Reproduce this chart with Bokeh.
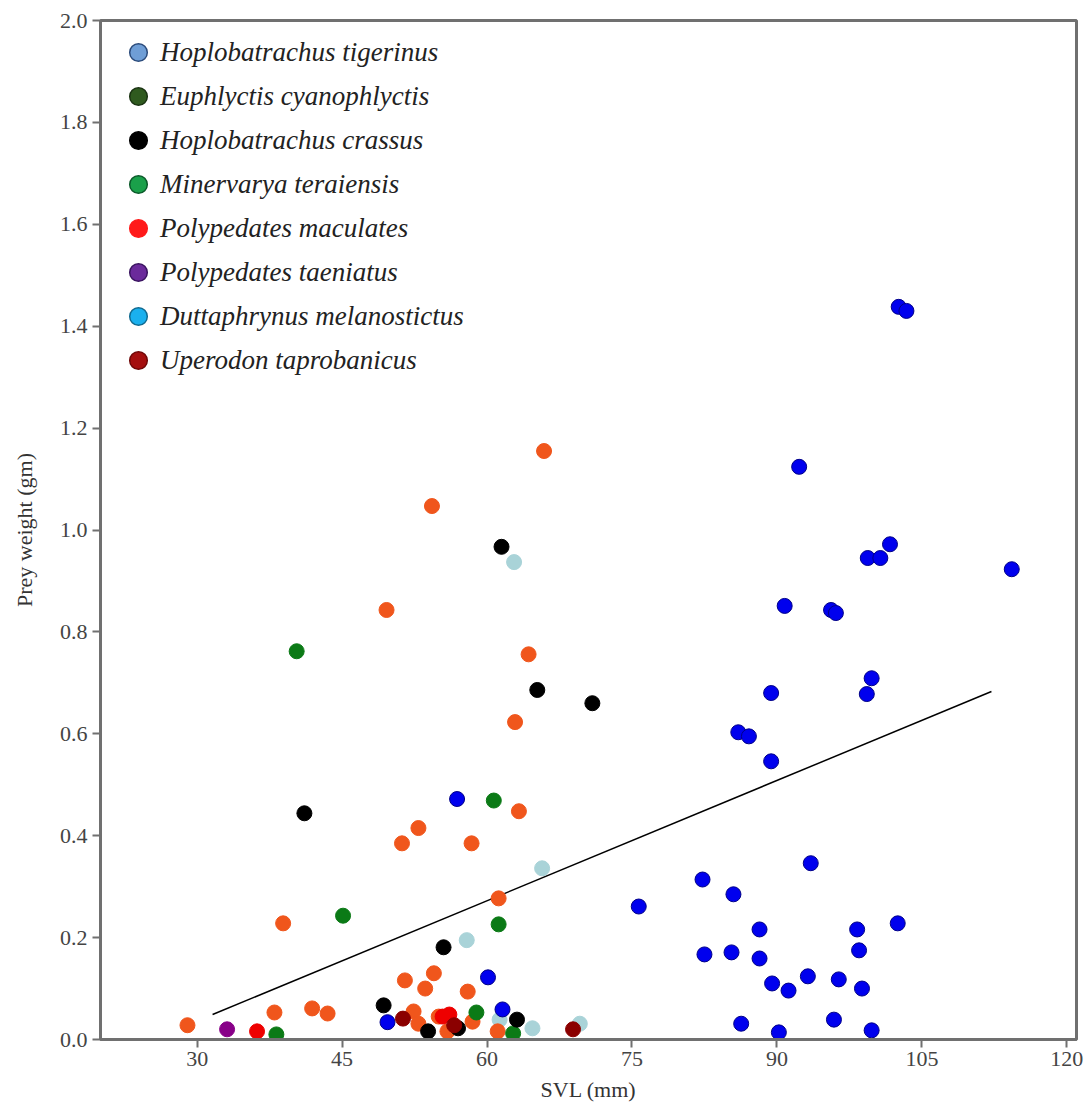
from bokeh.plotting import figure
from bokeh.models import Range1d, FixedTicker, PrintfTickFormatter, Legend, LegendItem, ColumnDataSource
from bokeh.embed import file_html
from bokeh.resources import INLINE

# ---- data (SVL mm, prey weight gm) ----
tigerinus_svl = [102.6, 103.4, 92.3, 101.7, 99.4, 100.7, 114.3, 90.8, 95.6, 96.1, 99.8, 99.3, 89.4,
                 86.0, 87.1, 89.4, 93.5, 82.3, 85.5, 75.7, 88.2, 98.3, 102.5, 82.5, 85.3, 88.2, 98.5,
                 89.5, 91.2, 93.2, 96.4, 98.8, 86.3, 90.2, 95.9, 99.8, 56.9, 60.1, 61.6, 49.7]
tigerinus_wt = [1.438, 1.430, 1.124, 0.972, 0.945, 0.945, 0.923, 0.851, 0.843, 0.837, 0.709, 0.678, 0.680,
                0.603, 0.595, 0.546, 0.346, 0.314, 0.285, 0.261, 0.216, 0.216, 0.228, 0.167, 0.171, 0.159, 0.175,
                0.110, 0.096, 0.124, 0.118, 0.100, 0.031, 0.014, 0.039, 0.018, 0.472, 0.122, 0.059, 0.034]

euphlyctis_svl = [40.3, 60.7, 45.1, 61.2, 38.2, 58.9, 62.7]
euphlyctis_wt = [0.762, 0.469, 0.243, 0.226, 0.010, 0.053, 0.012]

crassus_svl = [61.5, 65.2, 70.9, 41.1, 55.5, 49.3, 53.9, 57.0, 63.1]
crassus_wt = [0.967, 0.686, 0.660, 0.444, 0.181, 0.067, 0.016, 0.022, 0.039]

minervarya_svl = [65.9, 54.3, 49.6, 64.3, 62.9, 63.3, 52.9, 51.2, 58.4, 61.2, 38.9, 29.0, 38.0,
                  41.9, 43.5, 54.5, 51.5, 53.6, 58.0, 52.4, 52.9, 55.0, 55.9, 58.5, 61.1]
minervarya_wt = [1.155, 1.047, 0.843, 0.756, 0.623, 0.448, 0.415, 0.385, 0.385, 0.277, 0.228, 0.028, 0.053,
                 0.061, 0.051, 0.130, 0.116, 0.100, 0.094, 0.055, 0.031, 0.045, 0.016, 0.035, 0.016]

maculates_svl = [36.2, 55.4, 56.1]
maculates_wt = [0.016, 0.045, 0.049]

taeniatus_svl = [33.1]
taeniatus_wt = [0.020]

duttaphrynus_svl = [62.8, 65.7, 57.9, 64.7, 69.6, 61.3]
duttaphrynus_wt = [0.937, 0.336, 0.195, 0.022, 0.031, 0.039]

uperodon_svl = [68.9, 51.3, 56.6]
uperodon_wt = [0.020, 0.041, 0.028]

# regression line end points
fit_svl = [31.6, 112.2]
fit_wt = [0.049, 0.683]

species = ["Hoplobatrachus tigerinus", "Euphlyctis cyanophlyctis", "Hoplobatrachus crassus",
           "Minervarya teraiensis", "Polypedates maculates", "Polypedates taeniatus",
           "Duttaphrynus melanostictus", "Uperodon taprobanicus"]
legend_colors = ["#6f9ed6", "#2f5a1f", "#000000", "#1aa04a", "#ff1a1a", "#6b2a9b", "#1ab0ee", "#a50f0f"]
legend_lines = ["#2b4b7b", "#1a3312", "#000000", "#0b5a2a", "#ff1a1a", "#3a1460", "#106a90", "#700808"]

x_ticks = [30, 45, 60, 75, 90, 105, 120]
y_ticks = [0.0, 0.2, 0.4, 0.6, 0.8, 1.0, 1.2, 1.4, 1.6, 1.8, 2.0]

p = figure(width=1091, height=1113, output_backend="svg", toolbar_location=None,
           x_range=Range1d(20, 121), y_range=Range1d(0, 2.0),
           min_border_left=100, min_border_right=15, min_border_top=20, min_border_bottom=74)
p.grid.visible = False
p.background_fill_color = "white"
p.border_fill_color = "white"
p.outline_line_color = "#707070"
p.outline_line_width = 3

FONT = "Liberation Serif"
for ax in (p.xaxis[0], p.yaxis[0]):
    ax.axis_line_color = "#707070"
    ax.axis_line_width = 3
    ax.major_tick_line_color = "#707070"
    ax.major_tick_line_width = 2
    ax.major_tick_out = 8
    ax.major_tick_in = 0
    ax.minor_tick_line_color = None
    ax.major_label_text_font = FONT
    ax.major_label_text_font_size = "22px"
    ax.major_label_text_color = "#444444"
    ax.axis_label_text_font = FONT
    ax.axis_label_text_font_style = "normal"
    ax.axis_label_text_color = "#333333"
    ax.axis_label_text_font_size = "22px"

p.xaxis.ticker = FixedTicker(ticks=x_ticks)
p.yaxis.ticker = FixedTicker(ticks=y_ticks)
p.yaxis.formatter = PrintfTickFormatter(format="%.1f")
p.xaxis.axis_label = "SVL (mm)"
p.yaxis.axis_label = "Prey weight (gm)"
p.xaxis.major_label_standoff = 4
p.yaxis.major_label_standoff = 5
p.xaxis.axis_label_standoff = 8
p.yaxis.axis_label_standoff = 20

p.line(fit_svl, fit_wt, line_color="black", line_width=1.5)

S = 15
p.scatter(duttaphrynus_svl, duttaphrynus_wt, size=S, fill_color="#a9d3d8", line_color="#a9d3d8")
p.scatter(tigerinus_svl, tigerinus_wt, size=S, fill_color="#0000ee", line_color="#000088", line_width=1)
p.scatter(minervarya_svl, minervarya_wt, size=S, fill_color="#f0561c", line_color="#f0561c")
p.scatter(euphlyctis_svl, euphlyctis_wt, size=S, fill_color="#0b7a16", line_color="#0b7a16")
p.scatter(maculates_svl, maculates_wt, size=S, fill_color="#ee0000", line_color="#ee0000")
p.scatter(taeniatus_svl, taeniatus_wt, size=S, fill_color="#880088", line_color="#880088")
p.scatter(crassus_svl, crassus_wt, size=S, fill_color="#000000", line_color="#000000")
p.scatter(uperodon_svl, uperodon_wt, size=S, fill_color="#8b0000", line_color="#8b0000")

# legend swatches (renderers with a single NaN point carrying the legend colours)
items = []
nan = float("nan")
for name, fc, lc in zip(species, legend_colors, legend_lines):
    r = p.scatter(x="x", y="y", source=ColumnDataSource(dict(x=[nan], y=[nan])), size=S,
                  fill_color=fc, line_color=lc, line_width=1.5)
    items.append(LegendItem(label=name, renderers=[r], index=0))

legend = Legend(items=items, location=(16, 657), orientation="vertical",
                glyph_width=44, glyph_height=44, spacing=0, label_standoff=0,
                padding=0, margin=0,
                label_text_font=FONT, label_text_font_style="italic",
                label_text_font_size="27px", label_text_color="#222222",
                border_line_color=None, background_fill_alpha=0)
p.add_layout(legend, "center")

open("out.html", "w").write(file_html(p, INLINE))
